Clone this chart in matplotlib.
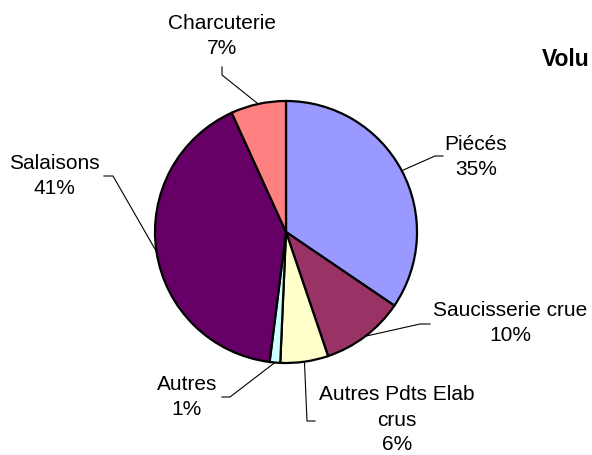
import numpy as np
import matplotlib
matplotlib.use("Agg")
import matplotlib.pyplot as plt

plt.rcParams['font.family'] = ['Liberation Sans', 'DejaVu Sans']

# parts of the volume, clockwise from the top
labels = ['Piécés', 'Saucisserie crue', 'Autres Pdts Elab\ncrus', 'Autres', 'Salaisons', 'Charcuterie']
values = [34.5, 10.3, 5.9, 1.3, 41.2, 6.8]
pct_labels = ['35%', '10%', '6%', '1%', '41%', '7%']
colors = ['#9999FF', '#993366', '#FFFFCC', '#CCFFFF', '#660066', '#FF8080']

# label placement, in pixels of the 592x456 image
# (text centre x, text centre y, elbow x, elbow y, end x)
label_pos = [
    (476, 157, 435, 157, 443),
    (510, 323, 420, 325, 430),
    (397, 420, 307, 422, 315),
    (187, 397, 230, 398, 222),
    (54, 176, 113, 177, 104),
    (222, 36, 222, 76, 222),
]

W, H = 592, 456
cx, cy, R = 286, 233, 131

fig = plt.figure(figsize=(W / 100, H / 100), dpi=100)
ax = fig.add_axes([0, 0, 1, 1])


def to_data(px, py):
    return (px - cx) / R, (cy - py) / R


wedges, _ = ax.pie(values, colors=colors, startangle=90, counterclock=False,
                   radius=1, center=(0, 0),
                   wedgeprops=dict(edgecolor='black', linewidth=1.6))

for w, lab, pct, pos in zip(wedges, labels, pct_labels, label_pos):
    tx, ty, ex, ey, endx = pos
    ang = np.deg2rad((w.theta1 + w.theta2) / 2)
    px, py = np.cos(ang), np.sin(ang)
    exd, eyd = to_data(ex, ey)
    endd, _ = to_data(endx, ey)
    if lab == 'Charcuterie':
        # short vertical stub under the label
        sx, sy = to_data(222, 68)
        ax.plot([px, exd, sx], [py, eyd, sy], color='black', lw=0.8)
    else:
        ax.plot([px, exd, endd], [py, eyd, eyd], color='black', lw=0.8)
    txd, tyd = to_data(tx, ty)
    ax.text(txd, tyd, lab + '\n' + pct, ha='center', va='center',
            fontsize=15, linespacing=1.4)

vx, vy = to_data(542, 60)
ax.text(vx, vy, 'Volu', ha='left', va='center', fontsize=16.5, fontweight='bold')

ax.set_xlim(-cx / R, (W - cx) / R)
ax.set_ylim(-(H - cy) / R, cy / R)
ax.set_aspect('auto')
ax.axis('off')

fig.savefig('out.png', dpi=100)
